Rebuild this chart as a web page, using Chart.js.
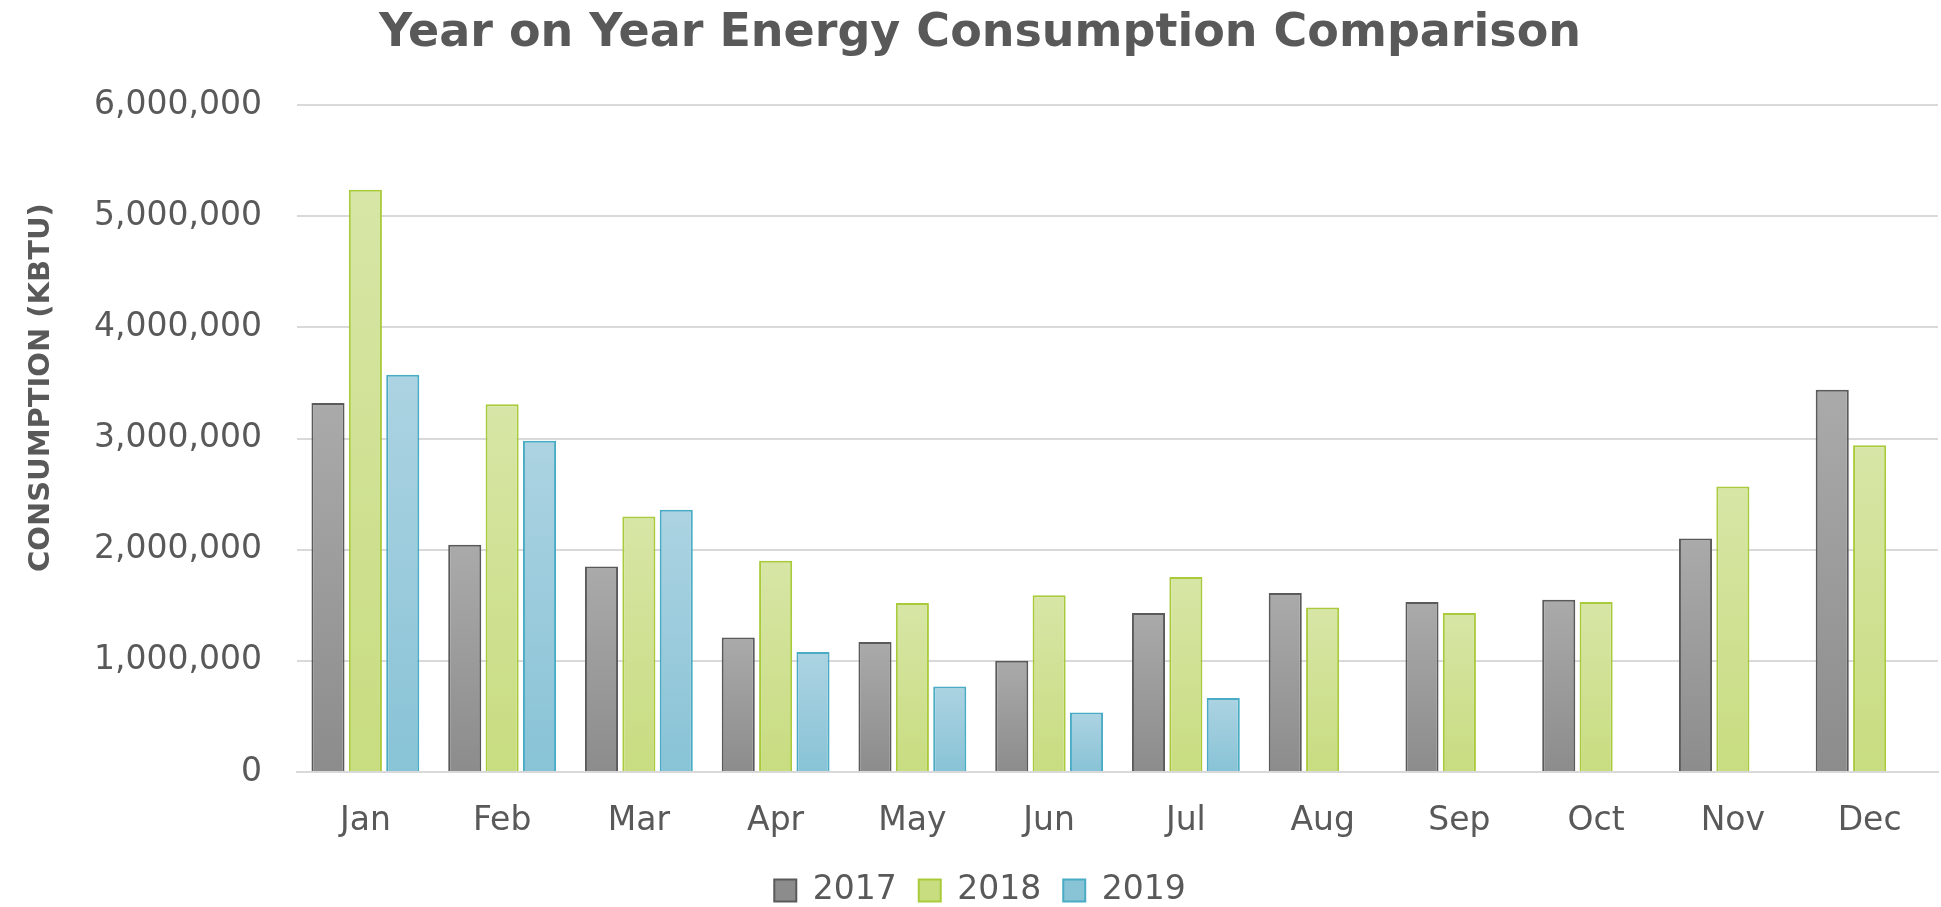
<!DOCTYPE html>
<html lang="en">

<head>
  <script src="https://cdn.jsdelivr.net/npm/chart.js@4.4.0/dist/chart.umd.min.js"></script>
  <title>Year on Year Energy Consumption Comparison</title>
  <style>
    body { margin: 0; background: #ffffff; }
    #wrap { width: 1941px; height: 907px; position: relative; }
  </style>
</head>

<body>

  <div id="wrap"><canvas id="myChart"></canvas></div>

  <script>
    var months = ['Jan', 'Feb', 'Mar', 'Apr', 'May', 'Jun', 'Jul', 'Aug', 'Sep', 'Oct', 'Nov', 'Dec'];
    var years = ['2017', '2018', '2019'];

    var usage2017 = [3320000, 2045000, 1850000, 1210000, 1170000, 1000000, 1430000, 1610000, 1530000, 1550000, 2100000, 3440000];
    var usage2018 = [5240000, 3310000, 2300000, 1900000, 1520000, 1590000, 1755000, 1480000, 1430000, 1530000, 2570000, 2940000];
    var usage2019 = [3575000, 2980000, 2360000, 1080000, 770000, 535000, 665000, null, null, null, null, null];

    var yTicks = [0, 1000000, 2000000, 3000000, 4000000, 5000000, 6000000];
    var yTitle = 'CONSUMPTION (KBTU)';

    var textGrey = '#595959';
    var gridGrey = '#d9d9d9';

    // each bar gets its own light-top / dark-bottom gradient
    function barFill(topCol, bottomCol) {
      return function(ctx) {
        var chart = ctx.chart;
        if (ctx.type !== 'data' || !chart.chartArea || !chart.scales.y) return bottomCol;
        var y = chart.scales.y;
        var top = y.getPixelForValue(ctx.raw);
        var bottom = y.getPixelForValue(0);
        if (!isFinite(top) || !isFinite(bottom) || top === bottom) return bottomCol;
        var g = chart.ctx.createLinearGradient(0, top, 0, bottom);
        g.addColorStop(0, topCol);
        g.addColorStop(1, bottomCol);
        return g;
      };
    }

    // y axis title sits a bit above the middle of the plot, like the original
    const yTitlePlugin = {
      id: 'yTitle',
      afterDraw: function(chart) {
        var c = chart.ctx;
        var area = chart.chartArea;
        c.save();
        c.translate(41, (area.top + area.bottom) / 2 - 51);
        c.rotate(-Math.PI / 2);
        c.fillStyle = textGrey;
        c.font = 'bold 29px "DejaVu Sans"';
        c.textAlign = 'center';
        c.textBaseline = 'middle';
        c.fillText(yTitle, 0, 0);
        c.restore();
      }
    };

    const data = {
      labels: months,
      datasets: [{
        label: years[0],
        data: usage2017,
        backgroundColor: barFill('#aaaaaa', '#8c8c8c'),
        borderColor: '#5a5a5a',
        borderWidth: 2
      }, {
        label: years[1],
        data: usage2018,
        backgroundColor: barFill('#d7e6a6', '#c8dc80'),
        borderColor: '#a9cb3b',
        borderWidth: 2
      }, {
        label: years[2],
        data: usage2019,
        backgroundColor: barFill('#acd3e2', '#88c3d6'),
        borderColor: '#4aabc5',
        borderWidth: 2
      }]
    };

    const config = {
      type: 'bar',
      data: data,
      plugins: [yTitlePlugin],
      options: {
        responsive: true,
        maintainAspectRatio: false,
        animation: false,
        categoryPercentage: 0.82,
        barPercentage: 0.885,
        layout: {
          padding: { left: 22, right: 3, top: 6, bottom: -10 }
        },
        plugins: {
          title: {
            display: true,
            text: 'Year on Year Energy Consumption Comparison',
            color: textGrey,
            font: { family: 'DejaVu Sans', size: 46, weight: 'bold' },
            padding: { top: 0, bottom: 44 }
          },
          legend: {
            position: 'bottom',
            labels: {
              color: textGrey,
              font: { family: 'DejaVu Sans', size: 33 },
              boxWidth: 22,
              boxHeight: 22,
              padding: 22
            }
          },
          tooltip: { enabled: false }
        },
        scales: {
          x: {
            grid: { display: false },
            border: { display: true, color: gridGrey, width: 2 },
            ticks: {
              color: textGrey,
              font: { family: 'DejaVu Sans', size: 33 },
              padding: 22
            },
            afterFit: function(axis) { axis.height = 80; }
          },
          y: {
            min: 0,
            max: 6000000,
            afterBuildTicks: function(axis) {
              axis.ticks = yTicks.map(function(v) { return { value: v }; });
            },
            afterFit: function(axis) { axis.width = 275; },
            grid: { color: gridGrey, lineWidth: 2, drawTicks: false },
            border: { display: false },
            ticks: {
              color: textGrey,
              font: { family: 'DejaVu Sans', size: 33 },
              padding: 35,
              callback: function(v) { return Number(v).toLocaleString('en-US'); }
            }
          }
        }
      }
    };

    var myChart = new Chart(
      document.getElementById('myChart'),
      config
    );
  </script>
</body>

</html>
